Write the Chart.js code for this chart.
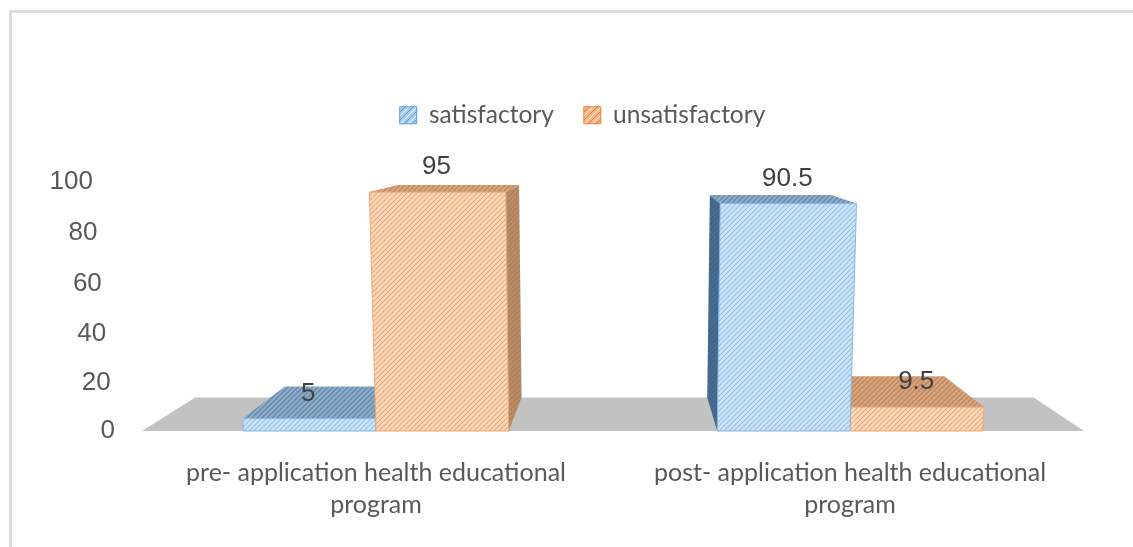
<!DOCTYPE html>
<html>
<head>
<meta charset="utf-8">
<style>
  body { margin: 0; background: #fff; overflow: hidden; }
  #frame { position: absolute; left: 9px; top: 10px; right: 0; bottom: 0; border-top: 3px solid #dedede; border-left: 3px solid #dedede; }
  canvas { position: absolute; left: 0; top: 0; }
</style>
</head>
<body>
<div id="frame"></div>
<canvas id="chart" width="1133" height="547"></canvas>
<script src="https://cdn.jsdelivr.net/npm/chart.js@4"></script>
<script>
const categories = [
  ["pre- application health educational", "program"],
  ["post- application health educational", "program"],
];
const seriesNames = ["satisfactory", "unsatisfactory"];
const satisfactory = [5, 90.5];
const unsatisfactory = [95, 9.5];
const tickStep = 20;
const tickMax = 100;

// hatch tile: base colour with thin diagonal stripes
function hatch(base, dark, light, size) {
  const tile = document.createElement("canvas");
  tile.width = tile.height = size;
  const c = tile.getContext("2d");
  c.fillStyle = base;
  c.fillRect(0, 0, size, size);
  c.lineWidth = 1;
  const stripe = (color, off) => {
    c.strokeStyle = color;
    for (let i = -size; i <= size; i += size) {
      c.beginPath();
      c.moveTo(i + off, size);
      c.lineTo(i + off + size, 0);
      c.stroke();
    }
  };
  stripe(dark, 0);
  if (light) stripe(light, size / 2);
  return document.getElementById("chart").getContext("2d").createPattern(tile, "repeat");
}

const looks = [
  {
    front: hatch("#c0dcf4", "#93bfe3", "#d8eafa", 5),
    top: hatch("#7f9fbe", "#5f85a9", "#9cb6cd", 5),
    side: hatch("#466c90", "#3b5f82", null, 5),
    legend: hatch("#a9cdee", "#5b9bd5", "#f2f8fd", 8),
    line: "#86b6e0",
    legendLine: "#5b9bd5",
  },
  {
    front: hatch("#fbcda9", "#e6ab80", "#fde0ca", 5),
    top: hatch("#cf9a72", "#bd8257", "#dcb08e", 5),
    side: hatch("#b98a66", "#a87a58", null, 5),
    legend: hatch("#f6b88a", "#ed7d31", "#fdf0e6", 8),
    line: "#eda673",
    legendLine: "#ed7d31",
  },
];

// the fake 3D view: depth runs to a vanishing point, uprights lean a little
const depth = 0.11;
const lean = 0.03;
function vanish(chart) {
  const a = chart.chartArea;
  return { x: (a.left + a.right) / 2 + 13, y: a.top - 52 };
}
function back(p, v) {
  return { x: p.x + (v.x - p.x) * depth, y: p.y + (v.y - p.y) * depth };
}
function poly(ctx, pts, fill, stroke) {
  ctx.beginPath();
  pts.forEach((p, i) => (i ? ctx.lineTo(p.x, p.y) : ctx.moveTo(p.x, p.y)));
  ctx.closePath();
  ctx.fillStyle = fill;
  ctx.fill();
  if (stroke) {
    ctx.strokeStyle = stroke;
    ctx.lineWidth = 1;
    ctx.stroke();
  }
}
function barCorners(chart, bar) {
  const a = chart.chartArea;
  const v = vanish(chart);
  const x0 = bar.x - bar.width / 2;
  const x1 = bar.x + bar.width / 2;
  const share = (bar.base - bar.y) / (a.bottom - a.top);
  const tilt = (x) => x + (x - (v.x - 16)) * lean * share;
  return {
    bl: { x: x0, y: bar.base },
    br: { x: x1, y: bar.base },
    tl: { x: tilt(x0), y: bar.y },
    tr: { x: tilt(x1), y: bar.y },
  };
}

const box3d = {
  id: "box3d",
  beforeDraw(chart) {
    // y tick labels follow the slanted wall of the 3D view
    const s = chart.scales.y;
    s.getLabelItems().forEach((item, i) => {
      const val = s.ticks[i].value;
      const share = val / tickMax;
      item.options.translation[0] = 115 - 22 * share;
      item.options.translation[1] = s.getPixelForValue(val) + 2 * share + 12 * share * (1 - share);
    });
  },
  beforeDatasetsDraw(chart) {
    const { ctx, chartArea: a, scales } = chart;
    const v = vanish(chart);
    const y0 = scales.y.getPixelForValue(0);
    const fl = { x: a.left + 3, y: y0 };
    const fr = { x: a.right - 3, y: y0 };
    poly(ctx, [fl, fr, back(fr, v), back(fl, v)], "#c2c2c2");
  },
  afterDatasetsDraw(chart) {
    const { ctx } = chart;
    const v = vanish(chart);
    const bars = [];
    chart.data.datasets.forEach((ds, i) => {
      chart.getDatasetMeta(i).data.forEach((bar) => bars.push({ bar, look: looks[i] }));
    });
    // far bars first so the near ones cover them
    bars.sort((p, q) => Math.abs(q.bar.x - v.x) - Math.abs(p.bar.x - v.x));
    bars.forEach(({ bar, look }) => {
      const c = barCorners(chart, bar);
      if (bar.x < v.x) {
        poly(ctx, [c.tr, c.br, back(c.br, v), back(c.tr, v)], look.side);
      } else {
        poly(ctx, [c.tl, c.bl, back(c.bl, v), back(c.tl, v)], look.side);
      }
      poly(ctx, [c.tl, c.tr, back(c.tr, v), back(c.tl, v)], look.top);
      poly(ctx, [c.tl, c.tr, c.br, c.bl], look.front, look.line);
    });
    // value labels
    ctx.font = "26px 'Liberation Sans'";
    ctx.fillStyle = "#404040";
    ctx.textAlign = "center";
    ctx.textBaseline = "middle";
    chart.data.datasets.forEach((ds, i) => {
      chart.getDatasetMeta(i).data.forEach((bar, j) => {
        const c = barCorners(chart, bar);
        ctx.fillText(String(ds.data[j]), (c.tl.x + c.tr.x) / 2 - 1, bar.y - 25);
      });
    });
  },
  afterLayout(chart) {
    const l = chart.legend;
    l.left += 16;
    l.right += 16;
    l.top -= 42;
    l.bottom -= 42;
  },
};

new Chart(document.getElementById("chart"), {
  type: "bar",
  data: {
    labels: categories,
    datasets: [
      {
        label: seriesNames[0],
        data: satisfactory,
        backgroundColor: looks[0].front,
        borderColor: looks[0].line,
        borderWidth: 1,
      },
      {
        label: seriesNames[1],
        data: unsatisfactory,
        backgroundColor: looks[1].front,
        borderColor: looks[1].line,
        borderWidth: 1,
      },
    ],
  },
  options: {
    responsive: false,
    animation: false,
    layout: { padding: { left: 46, right: 46, top: 115, bottom: 0 } },
    datasets: { bar: { categoryPercentage: 0.56, barPercentage: 1 } },
    plugins: {
      tooltip: { enabled: false },
      legend: {
        position: "top",
        labels: {
          boxWidth: 17,
          boxHeight: 17,
          padding: 30,
          color: "#595959",
          font: { family: "Lato", size: 24.5 },
          generateLabels: (chart) =>
            chart.data.datasets.map((ds, i) => ({
              text: ds.label,
              fillStyle: looks[i].legend,
              strokeStyle: looks[i].legendLine,
              lineWidth: 1,
              fontColor: "#595959",
              datasetIndex: i,
            })),
        },
      },
    },
    scales: {
      x: {
        grid: { display: false },
        border: { display: false },
        afterFit: (s) => { s.height = 116; },
        ticks: {
          color: "#595959",
          font: { family: "Lato", size: 25, lineHeight: 1.28 },
          padding: 18,
          maxRotation: 0,
          autoSkip: false,
        },
      },
      y: {
        min: 0,
        max: tickMax,
        grid: { display: false },
        border: { display: false },
        afterFit: (s) => { s.width = 93; },
        ticks: {
          stepSize: tickStep,
          color: "#595959",
          font: { family: "Liberation Sans", size: 26 },
          padding: 46,
        },
      },
    },
  },
  plugins: [box3d],
});
</script>
</body>
</html>
